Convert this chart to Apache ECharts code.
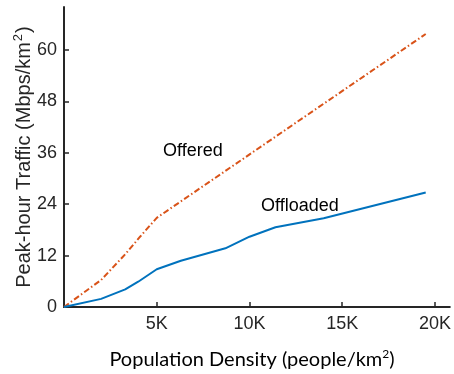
<!DOCTYPE html>
<html>
<head>
<meta charset="utf-8">
<script src="https://cdn.jsdelivr.net/npm/echarts@6/dist/echarts.min.js"></script>
<style>
  html, body { margin: 0; padding: 0; background: #fff; }
  #chart { width: 454px; height: 374px; }
</style>
</head>
<body>
<div id="chart"></div>
<script>
// Population density (people/km^2) sample points and peak-hour traffic (Mbps/km^2)
const densityOffered = [0, 2000, 3300, 4100, 5000, 19500];
const offered = [0, 6.3, 12.3, 16.4, 20.8, 63.7];

const densityOffloaded = [0, 2000, 3300, 4000, 5000, 6300, 8700, 10000, 11400, 14000, 19500];
const offloaded = [0, 1.9, 4.1, 5.9, 8.8, 10.8, 13.7, 16.4, 18.6, 20.7, 26.7];

const yTicks = [0, 12, 24, 36, 48, 60];
const xTickLabels = { 5000: '5K', 10000: '10K', 15000: '15K', 20000: '20K' };

const axisColor = '#262626';
const font = 'Liberation Sans, Arial, Helvetica, sans-serif';
const titleFont = 'Lato, "Open Sans", sans-serif';

const chart = echarts.init(document.getElementById('chart'), null, { renderer: 'canvas' });

chart.setOption({
  animation: false,
  backgroundColor: '#ffffff',
  grid: { left: 64, top: 7, right: 1, bottom: 67, containLabel: false },
  xAxis: {
    type: 'value',
    min: 0,
    max: 20800,
    interval: 5000,
    axisLine: { show: true, lineStyle: { color: axisColor, width: 2 } },
    axisTick: { show: true, inside: true, length: 5, lineStyle: { color: axisColor, width: 1.5 } },
    axisLabel: {
      color: axisColor, fontSize: 18, fontFamily: font, margin: 8,
      showMaxLabel: false,
      formatter: v => xTickLabels[v] || ''
    },
    splitLine: { show: false }
  },
  yAxis: {
    type: 'value',
    min: 0,
    max: 70,
    interval: 12,
    axisLine: { show: true, lineStyle: { color: axisColor, width: 2 } },
    axisTick: { show: true, inside: true, length: 5, lineStyle: { color: axisColor, width: 1.5 } },
    axisLabel: {
      color: axisColor, fontSize: 18, fontFamily: font, margin: 7,
      showMaxLabel: false,
      formatter: v => (yTicks.indexOf(v) >= 0 ? String(v) : '')
    },
    splitLine: { show: false }
  },
  series: [
    {
      name: 'Offered',
      type: 'line',
      data: densityOffered.map((d, i) => [d, offered[i]]),
      showSymbol: false,
      lineStyle: { color: '#D95319', width: 2, type: [6, 2.5, 1.5, 2.5] },
      z: 3
    },
    {
      name: 'Offloaded',
      type: 'line',
      data: densityOffloaded.map((d, i) => [d, offloaded[i]]),
      showSymbol: false,
      lineStyle: { color: '#0072BD', width: 2 },
      z: 4
    }
  ],
  graphic: [
    {
      type: 'text', left: 163, top: 142,
      style: { text: 'Offered', fill: '#000', font: '18px ' + font }
    },
    {
      type: 'text', left: 261, top: 197,
      style: { text: 'Offloaded', fill: '#000', font: '18px ' + font }
    },
    {
      type: 'text',
      x: 24, y: 157,
      rotation: Math.PI / 2,
      style: {
        text: '{a|Peak-hour Traffic (Mbps/km}{s|2}{a|)}',
        align: 'center',
        verticalAlign: 'middle',
        rich: {
          a: { fill: axisColor, fontSize: 20, fontFamily: font, lineHeight: 22 },
          s: { fill: axisColor, fontSize: 13, fontFamily: font, lineHeight: 13, padding: [0, 1, 12, 1] }
        }
      }
    },
    {
      type: 'text',
      x: 252, y: 360,
      style: {
        text: '{a|Population Density (people/km}{s|2}{a|)}',
        align: 'center',
        verticalAlign: 'middle',
        rich: {
          a: { fill: '#000', fontSize: 20, fontFamily: titleFont, lineHeight: 22 },
          s: { fill: '#000', fontSize: 12, fontFamily: titleFont, lineHeight: 12, padding: [0, 0, 12, 0] }
        }
      }
    }
  ]
});
</script>
</body>
</html>
